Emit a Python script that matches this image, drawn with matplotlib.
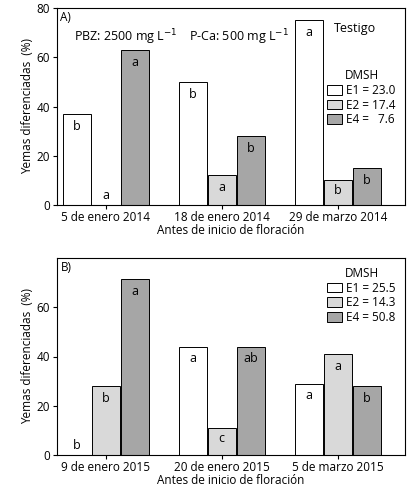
import matplotlib
matplotlib.use("Agg")
import matplotlib.pyplot as plt
from matplotlib.patches import Patch
import numpy as np

plt.rcParams['font.family'] = ['Open Sans', 'DejaVu Sans']
plt.rcParams['font.size'] = 8.5
plt.rcParams['xtick.major.size'] = 3
plt.rcParams['ytick.major.size'] = 3
plt.rcParams['xtick.major.pad'] = 1.5
plt.rcParams['ytick.major.pad'] = 2

groups_a = ["5 de enero 2014", "18 de enero 2014", "29 de marzo 2014"]
e1_a = [37, 50, 75]
e2_a = [0, 12, 10]
e4_a = [63, 28, 15]
let_a = [["b", "a", "a"], ["b", "a", "b"], ["a", "b", "b"]]
leg_a = ["E1 = 23.0", "E2 = 17.4", "E4 =   7.6"]

groups_b = ["9 de enero 2015", "20 de enero 2015", "5 de marzo 2015"]
e1_b = [0, 44, 29]
e2_b = [28, 11, 41]
e4_b = [71.5, 44, 28]
let_b = [["b", "b", "a"], ["a", "c", "ab"], ["a", "a", "b"]]
leg_b = ["E1 = 25.5", "E2 = 14.3", "E4 = 50.8"]

colors = ["white", "#d9d9d9", "#a6a6a6"]

fig = plt.figure(figsize=(4.16, 4.91), dpi=100)
axA = fig.add_axes([57/416, 1-205/491, 348/416, 197/491])
axB = fig.add_axes([57/416, 1-455/491, 348/416, 197/491])

def draw(ax, groups, series, letters, legtxt, panel):
    x = np.arange(len(groups))
    off = [-0.25, 0, 0.25]
    for s, (vals, c) in enumerate(zip(series, colors)):
        ax.bar(x + off[s], vals, width=0.245, color=c, edgecolor="black", linewidth=0.7)
        for g, v in enumerate(vals):
            y = v - 5 if v >= 14 else max(v * 0.6, 3)
            if v == 0:
                y = 4
            ax.text(x[g] + off[s], y, letters[g][s], ha="center", va="center", fontsize=9)
    ax.set_xlim(-0.42, 2.58)
    ax.set_ylim(0, 80)
    ax.set_yticks([0, 20, 40, 60, 80] if panel == "A)" else [0, 20, 40, 60])
    ax.set_xticks(x)
    ax.set_xticklabels(groups)
    ax.set_xlabel("Antes de inicio de floración", labelpad=0)
    ax.set_ylabel("Yemas diferenciadas  (%)", labelpad=2)
    ax.text(0.01, 0.985, panel, transform=ax.transAxes, va="top", ha="left")
    handles = [Patch(facecolor=c, edgecolor="black", linewidth=0.7) for c in colors]
    return handles

h = draw(axA, groups_a, [e1_a, e2_a, e4_a], let_a, leg_a, "A)")
axA.legend(h, leg_a, title="DMSH", loc="upper left", bbox_to_anchor=(0.76, 0.72),
           frameon=False, handlelength=1.2, handleheight=0.9, labelspacing=0.15,
           fontsize=8.5, title_fontsize=8.5, borderpad=0, handletextpad=0.4)
axA.text(0.05, 0.83, "PBZ: 2500 mg L$^{-1}$", transform=axA.transAxes, fontsize=9)
axA.text(0.38, 0.83, "P-Ca: 500 mg L$^{-1}$", transform=axA.transAxes, fontsize=9)
axA.text(0.795, 0.88, "Testigo", transform=axA.transAxes, fontsize=9)

h = draw(axB, groups_b, [e1_b, e2_b, e4_b], let_b, leg_b, "B)")
axB.legend(h, leg_b, title="DMSH", loc="upper left", bbox_to_anchor=(0.76, 0.985),
           frameon=False, handlelength=1.2, handleheight=0.9, labelspacing=0.15,
           fontsize=8.5, title_fontsize=8.5, borderpad=0, handletextpad=0.4)

fig.savefig("out.png", dpi=100)
